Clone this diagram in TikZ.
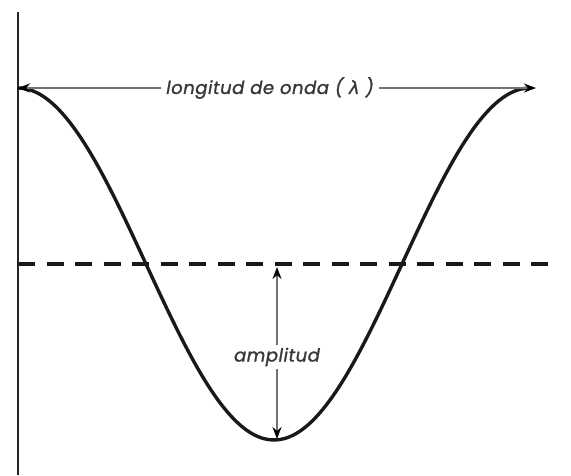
\documentclass[tikz,border=0pt]{standalone}
\usepackage{fontspec}
\setmainfont{Poppins}
\newfontfamily\gk{DejaVu Sans}
\usetikzlibrary{arrows.meta}
\tikzset{
  axisline/.style={line width=2.6pt, draw=black!85},
  wave/.style={line width=3.4pt, draw=black!90},
  midline/.style={line width=4pt, draw=black!90, dash pattern=on 17pt off 11.5pt},
  dimhalf/.style={line width=1.8pt, draw=black!55, -{Stealth[length=12pt,width=9pt,black]}},
  lbl/.style={font=\fontsize{18}{20}\selectfont\itshape\addfontfeature{LetterSpace=3,FakeBold=1.2}, text=black!78, inner xsep=5pt, inner ysep=3pt, fill=white}
}
\begin{document}
\begin{tikzpicture}[x=1pt,y=-1pt]
\useasboundingbox (0,0) rectangle (571,475);
\coordinate (axT) at (18,12);
\coordinate (axB) at (18,475);
\coordinate (wL) at (18,88);
\coordinate (wR) at (536,88);
\coordinate (mL) at (18,264);
\coordinate (mR) at (556,264);
\coordinate (aT) at (277,267);
\coordinate (aB) at (277,439);
\draw[axisline] (axT) -- (axB);
\draw[midline] (mL) -- (mR);
\draw[wave] plot[domain=0:360, samples=120, smooth] ({18+1.42222*\x},{264-176*cos(\x)});
\node[lbl] (wl) at (270,88) {longitud de onda ( {\gk\itshape\addfontfeature{FakeBold=1.2} λ} )};
\draw[dimhalf] (wl.west) -- (wL);
\draw[dimhalf] (wl.east) -- (wR);
\node[lbl] (amp) at (277,357) {amplitud};
\draw[dimhalf] (amp.north) -- (aT);
\draw[dimhalf] (amp.south) -- (aB);
\end{tikzpicture}
\end{document}
